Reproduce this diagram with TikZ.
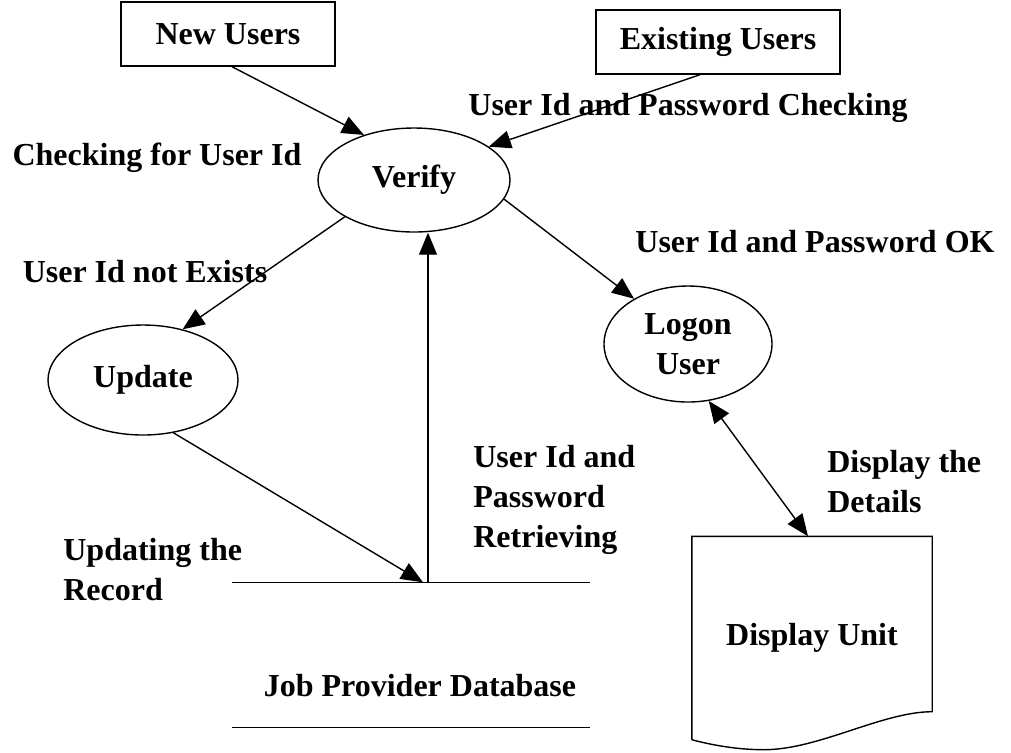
\documentclass[tikz,border=0pt]{standalone}
\usepackage{fontspec}
\setmainfont{Liberation Serif}
\usetikzlibrary{arrows.meta,positioning,calc,shapes.geometric}

\begin{document}
\begin{tikzpicture}[x=0.5pt,y=-0.5pt,
font=\fontsize{16}{20}\selectfont\bfseries,
line width=0.7pt,
entity/.style={rectangle,draw,inner sep=0pt},
process/.style={ellipse,draw,inner sep=0pt,align=center},
flow/.style={-{Triangle[length=11pt,width=9pt]}},
flowboth/.style={{Triangle[length=11pt,width=9pt]}-{Triangle[length=11pt,width=9pt]}},
]
\useasboundingbox (0,0) rectangle (1011,752);
% sources
\node (newusers) [entity,minimum width=107pt,minimum height=32pt] at (228,34) {New Users};
\node (existusers) [entity,minimum width=122pt,minimum height=32pt] at (718,42) {Existing Users};
% processes
\node (verify) [process,minimum width=96pt,minimum height=52pt] at (414,180) {Verify};
\node (update) [process,minimum width=95pt,minimum height=55pt] at (143,380) {Update};
\node (logon) [process,minimum width=84pt,minimum height=58pt] at (688,344) {Logon\\User};
% store and display
\node (db) [minimum width=178pt,minimum height=72pt] at (411,655) {};
\node (dbtext) at (420,686) {Job Provider Database};
\draw (db.north west) -- (db.north east);
\draw (db.south west) -- (db.south east);
\node (display) [minimum width=119.5pt,minimum height=101pt] at (812,638) {Display Unit};
\draw (display.south west) -- (display.north west) -- (display.north east)
  -- ([yshift=14pt]display.south east)
  .. controls +(-50,0) and +(55,0) .. ([xshift=36pt,yshift=-5pt]display.south west)
  .. controls +(-30,0) and +(15,4) .. (display.south west);
% flow labels
\node (lcheckid) at (157,158) {Checking for User Id};
\node (lcheckpw) at (688,108) {User Id and Password Checking};
\node (lnotexist) at (145,272) {User Id not Exists};
\node (lok) at (815,242) {User Id and Password OK};
\node (lretrieve) [anchor=north west,align=left] at (466,438) {User Id and\\Password\\Retrieving};
\node (ldetails) [anchor=north west,align=left] at (820,443) {Display the\\Details};
\node (lupdating) [anchor=north west,align=left] at (56,531) {Updating the\\Record};
% flows
\draw[flow] ([xshift=2pt]newusers.south) -- (verify.138);
\draw[flow] ([xshift=-9pt]existusers.south) -- (verify.24);
\draw[flow] (verify.-12) -- (logon.140);
\draw[flow] (verify.-152) -- (update.52);
\draw[flow] (update.-60) -- ([xshift=6pt]db.north);
\draw[flow] ([xshift=8.5pt]db.north) -- ([xshift=8.5pt]db.north |- verify.south);
\draw[flowboth] (logon.-70) -- ([xshift=-2pt]display.north);
\end{tikzpicture}
\end{document}
